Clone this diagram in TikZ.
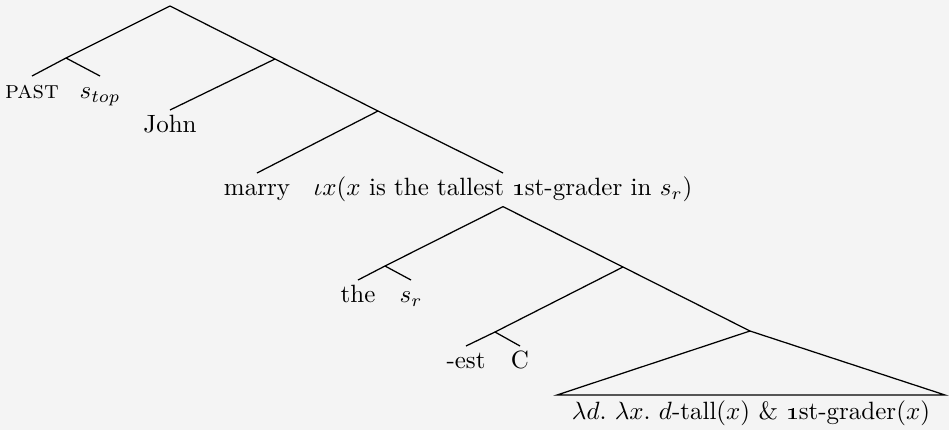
\documentclass[tikz,border=0pt]{standalone}
\usetikzlibrary{positioning}
\definecolor{bggray}{HTML}{F4F4F4}

\begin{document}
\begin{tikzpicture}[x=0.4pt, y=-0.4pt,
  leaf/.style={anchor=north, inner sep=2pt, text height=1.6ex, text depth=.5ex},
  branch/.style={line width=0.5pt},
]
  % Background and frame
  \fill[bggray] (0,0) rectangle (949,430);

  % Branching points
  \coordinate (r) at (170,6);
  \coordinate (a) at (66,58);
  \coordinate (b) at (275,59);
  \coordinate (c) at (378,111);
  \coordinate (d) at (385,266);
  \coordinate (e) at (623,267);
  \coordinate (f) at (495,332);
  \coordinate (g) at (750,331);
  \coordinate (tl) at (557,395);
  \coordinate (tr) at (945,395);

  % Leaves
  \node[leaf] (past) at (32,76) {\textsc{past}};
  \node[leaf] (stop) at (100,76) {$s_{top}$};
  \node[leaf] (john) at (170,110) {John};
  \node[leaf] (marry) at (257,173) {marry};
  \node[leaf] (iota) at (503,173) {$\iota x(x$ is the tallest \oldstylenums{1}st-grader in $s_r)$};
  \node[leaf] (the) at (358,280) {the};
  \node[leaf] (sr) at (411,280) {$s_r$};
  \node[leaf] (est) at (466,346) {-est};
  \node[leaf] (cc) at (520,346) {C};
  \node[leaf] (pred) at (751,397) {$\lambda d.\ \lambda x.\ d$-tall$(x)$ \& \oldstylenums{1}st-grader$(x)$};

  % Branches
  \draw[branch] (r) -- (a);
  \draw[branch] (r) -- (b);
  \draw[branch] (a) -- (past.north);
  \draw[branch] (a) -- (stop.north);
  \draw[branch] (b) -- (john.north);
  \draw[branch] (b) -- (c);
  \draw[branch] (c) -- (marry.north);
  \draw[branch] (c) -- (iota.north);
  \draw[branch] (iota.south) -- (d);
  \draw[branch] (iota.south) -- (e);
  \draw[branch] (d) -- (the.north);
  \draw[branch] (d) -- (sr.north);
  \draw[branch] (e) -- (f);
  \draw[branch] (e) -- (g);
  \draw[branch] (f) -- (est.north);
  \draw[branch] (f) -- (cc.north);
  \draw[branch] (g) -- (tl) -- (tr) -- cycle;

\end{tikzpicture}
\end{document}
